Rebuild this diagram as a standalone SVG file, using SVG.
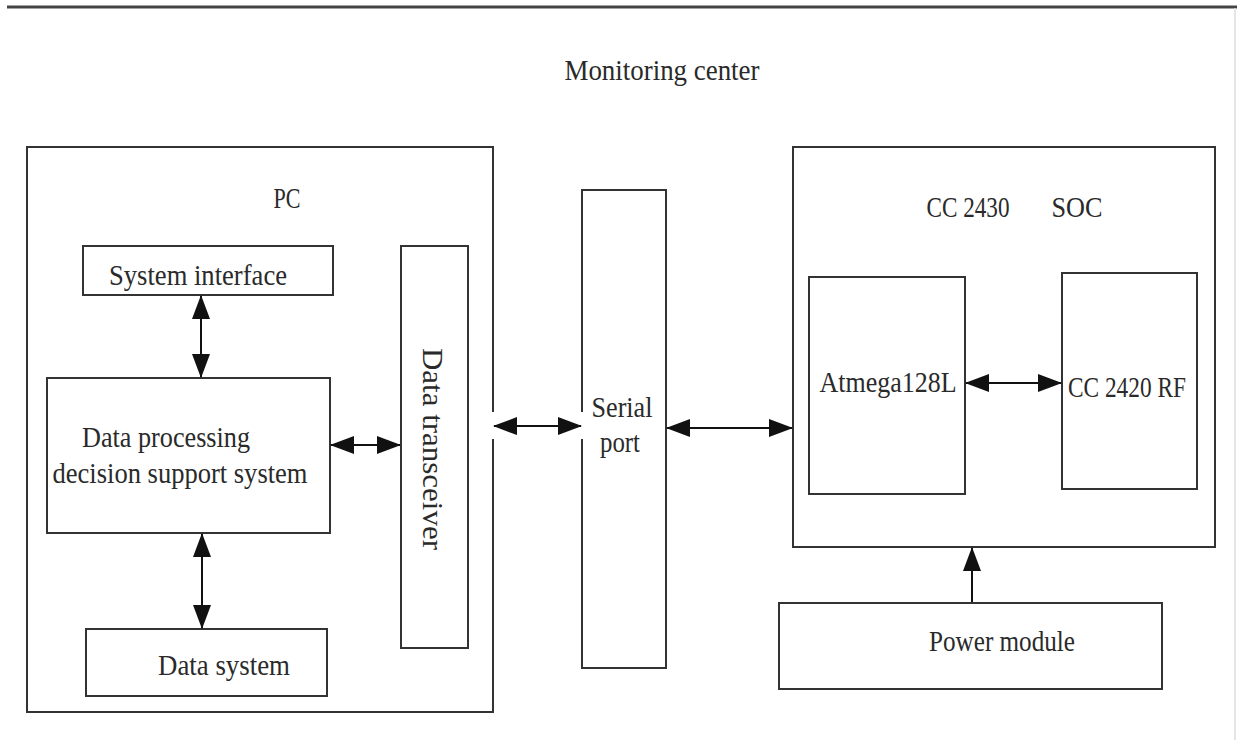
<svg xmlns="http://www.w3.org/2000/svg" width="1237" height="740" viewBox="0 0 1237 740">
<style>
.box{fill:#fff;stroke:#333;stroke-width:2}
.lbl{font-family:"Liberation Serif","Times New Roman",serif;font-size:29px;fill:#2a2a2a;text-anchor:middle}
.conn{stroke:#111;stroke-width:2;fill:none}
</style>
<defs>
<marker id="ah" viewBox="0 0 24 18" markerWidth="24" markerHeight="18" refX="23" refY="9" orient="auto-start-reverse" markerUnits="userSpaceOnUse">
<path d="M0,0 L24,9 L0,18 z" fill="#111"/>
</marker>
</defs>
<rect width="1237" height="740" fill="#fff"/>
<line x1="7" y1="7" x2="1237" y2="7" stroke="#444" stroke-width="3"/>
<line x1="1235" y1="8" x2="1235" y2="740" stroke="#ddd" stroke-width="1.5"/>
<text class="lbl" x="662" y="80" textLength="195" lengthAdjust="spacingAndGlyphs">Monitoring center</text>

<g id="pc">
<rect class="box" x="27" y="147" width="466" height="565"/>
<text class="lbl" x="287" y="208" textLength="27" lengthAdjust="spacingAndGlyphs">PC</text>
</g>
<g id="system-interface">
<rect class="box" x="83" y="246" width="250" height="49"/>
<text class="lbl" x="198" y="285" textLength="178" lengthAdjust="spacingAndGlyphs">System interface</text>
</g>
<g id="data-processing">
<rect class="box" x="47" y="378" width="283" height="155"/>
<text class="lbl" x="166" y="447" textLength="168" lengthAdjust="spacingAndGlyphs">Data processing</text>
<text class="lbl" x="180" y="483" textLength="255" lengthAdjust="spacingAndGlyphs">decision support system</text>
</g>
<g id="data-system">
<rect class="box" x="86" y="629" width="241" height="67"/>
<text class="lbl" x="224" y="675" textLength="132" lengthAdjust="spacingAndGlyphs">Data system</text>
</g>
<g id="data-transceiver">
<rect class="box" x="401" y="246" width="67" height="402"/>
<text class="lbl" transform="translate(423,449) rotate(90)" x="0" y="0" textLength="202" lengthAdjust="spacingAndGlyphs">Data transceiver</text>
</g>
<g id="serial-port">
<rect class="box" x="582" y="190" width="84" height="478"/>
<text class="lbl" x="622" y="417" textLength="61" lengthAdjust="spacingAndGlyphs">Serial</text>
<text class="lbl" x="620" y="452" textLength="40" lengthAdjust="spacingAndGlyphs">port</text>
</g>
<g id="soc">
<rect class="box" x="793" y="147" width="422" height="400"/>
<text class="lbl" x="968" y="217" textLength="83" lengthAdjust="spacingAndGlyphs">CC 2430</text>
<text class="lbl" x="1077" y="217" textLength="51" lengthAdjust="spacingAndGlyphs">SOC</text>
</g>
<g id="atmega">
<rect class="box" x="809" y="277" width="156" height="217"/>
<text class="lbl" x="888" y="392" textLength="137" lengthAdjust="spacingAndGlyphs">Atmega128L</text>
</g>
<g id="cc2420">
<rect class="box" x="1062" y="273" width="135" height="216"/>
<text class="lbl" x="1127" y="397" textLength="118" lengthAdjust="spacingAndGlyphs">CC 2420 RF</text>
</g>
<g id="power-module">
<rect class="box" x="779" y="603" width="383" height="86"/>
<text class="lbl" x="1002" y="651" textLength="146" lengthAdjust="spacingAndGlyphs">Power module</text>
</g>

<g id="connectors">
<rect x="489" y="412" width="97" height="27" fill="#fff"/>
<line class="conn" x1="201" y1="296" x2="201" y2="377" marker-start="url(#ah)" marker-end="url(#ah)"/>
<line class="conn" x1="202" y1="534" x2="202" y2="628" marker-start="url(#ah)" marker-end="url(#ah)"/>
<line class="conn" x1="331" y1="445" x2="400" y2="445" marker-start="url(#ah)" marker-end="url(#ah)"/>
<line class="conn" x1="494" y1="426" x2="581" y2="426" marker-start="url(#ah)" marker-end="url(#ah)"/>
<line class="conn" x1="667" y1="428" x2="792" y2="428" marker-start="url(#ah)" marker-end="url(#ah)"/>
<line class="conn" x1="966" y1="383" x2="1061" y2="383" marker-start="url(#ah)" marker-end="url(#ah)"/>
<line class="conn" x1="972" y1="602" x2="972" y2="548" marker-end="url(#ah)"/>
</g>
</svg>
